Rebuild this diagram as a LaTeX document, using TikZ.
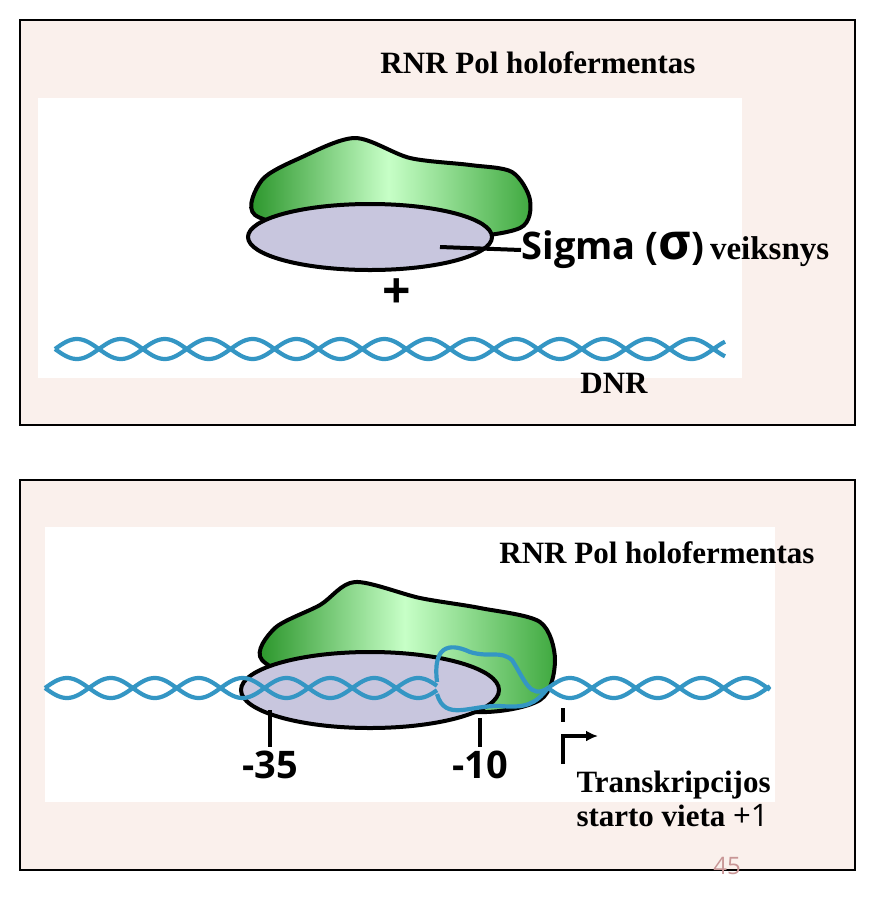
\documentclass[tikz,border=0pt]{standalone}
\usepackage{fontspec}
\setmainfont{Liberation Serif}
\setsansfont{Open Sans}
\usetikzlibrary{shapes.geometric, arrows.meta}
\begin{document}
\definecolor{panel}{RGB}{250,240,236}
\definecolor{dna}{RGB}{52,150,196}
\definecolor{sigmafill}{RGB}{200,198,222}
\definecolor{pagenum}{RGB}{200,150,150}
\begin{tikzpicture}[x=1pt, y=-1pt, line width = 1pt,
                    box/.style = {draw, fill = panel, line width = 1.4pt},
                    inner/.style = {fill = white, draw = none},
                    title/.style = {font = \fontsize{31}{34}\selectfont\bfseries},
                    poslabel/.style = {font = \sffamily\fontsize{38}{40}\selectfont\bfseries},
                    strand/.style = {dna, line width = 4.2pt},
                    core/.style = {draw, line width = 4pt, left color = green!50!black!85, right color = green!55!black!75, middle color = green!40!white!55},
                    sigma/.style = {draw, line width = 4pt, fill = sigmafill}]
    \useasboundingbox (0,0) rectangle (878,898);
    % top panel
    \fill[box] (20,20) rectangle (855,425);
    \fill[inner] (38,98) rectangle (742,378);
    \node[title] (t1) at (538,63) {RNR Pol holofermentas};
    \draw[core] plot[smooth cycle] coordinates {(255,215) (262,180) (300,158) (355,138) (410,158) (470,165) (512,172) (530,200) (520,228) (450,238) (330,232)};
    \node[sigma, ellipse, minimum width = 244pt, minimum height = 66pt] (s1) at (370,237) {};
    \coordinate (s1in) at (440,247);
    \node[anchor = west, inner sep = 0pt] (lab1) at (521,250) {{\sffamily\fontsize{38}{40}\selectfont\bfseries Sigma (\textsf{\fontsize{50}{50}\selectfont σ})}\hspace{6pt}{\fontsize{33}{36}\selectfont\bfseries veiksnys}};
    \draw[line width = 4pt] (s1in) -- (lab1.west);
    \node[font = \sffamily\fontsize{50}{50}\selectfont\bfseries] (plus) at (397,294) {+};
    \draw[strand, domain = 55:725, samples = 300] plot (\x, {349 + 10*sin(4.1*(\x-55))});
    \draw[strand, domain = 55:725, samples = 300] plot (\x, {349 - 10*sin(4.1*(\x-55))});
    \node[title] (d1) at (614,383) {DNR};
    % bottom panel
    \fill[box] (20,480) rectangle (855,870);
    \fill[inner] (45,527) rectangle (775,802);
    \node[title] (t2) at (657,553) {RNR Pol holofermentas};
    \draw[core] plot[smooth cycle] coordinates {(262,660) (275,628) (320,605) (355,582) (420,598) (480,608) (540,622) (555,660) (540,700) (470,712) (330,690)};
    \node[sigma, ellipse, minimum width = 258pt, minimum height = 76pt] (s2) at (370,690) {};
    \draw[strand, domain = 45:437, samples = 250] plot (\x, {688 + 10*sin(4.1*(\x-45))});
    \draw[strand, domain = 45:437, samples = 250] plot (\x, {688 - 10*sin(4.1*(\x-45))});
    \draw[strand] (437,682) .. controls (432,640) and (455,645) .. (470,652) .. controls (490,658) and (500,650) .. (512,660) .. controls (525,680) and (530,700) .. (548,688);
    \draw[strand] (437,694) .. controls (445,722) and (470,705) .. (500,706) .. controls (525,708) and (535,705) .. (548,688);
    \draw[strand, domain = 548:770, samples = 150] plot (\x, {688 + 10*sin(4.1*(\x-548))});
    \draw[strand, domain = 548:770, samples = 150] plot (\x, {688 - 10*sin(4.1*(\x-548))});
    \node[poslabel] (m35) at (270,765) {-35};
    \node[poslabel] (m10) at (480,765) {-10};
    \coordinate (m35t) at (270,710);
    \coordinate (m10t) at (480,718);
    \draw[line width = 4pt] (m35t) -- (m35.north);
    \draw[line width = 4pt] (m10t) -- (m10.north);
    \coordinate (st) at (563,708);
    \coordinate (sb) at (563,764);
    \coordinate (sa) at (598,736);
    \draw[line width = 3.5pt] (st) -- ++(0,14);
    \draw[line width = 3.5pt, -{Latex[length=12pt,width=11pt]}] (sb) |- (sa);
    \node[title, anchor = north west, align = left, inner sep = 0pt] (tss) at (576,770) {Transkripcijos\\starto vieta {\sffamily\mdseries +1}};
    \node[text = pagenum, font = \sffamily\fontsize{24}{24}\selectfont] (pg) at (727,866) {45};
\end{tikzpicture}
\end{document}
